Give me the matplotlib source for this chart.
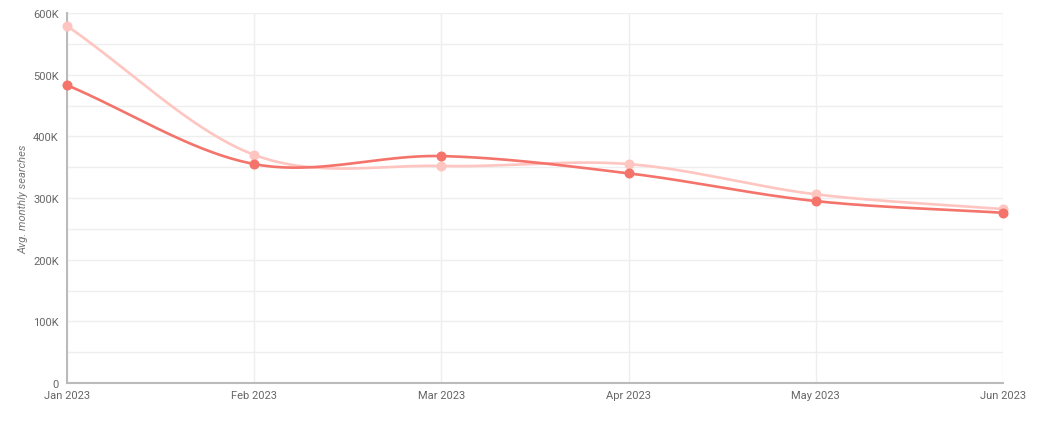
import numpy as np
import matplotlib
matplotlib.use("Agg")
import matplotlib.pyplot as plt
from matplotlib.ticker import FuncFormatter, MultipleLocator

plt.rcParams["font.family"] = ["Roboto", "DejaVu Sans"]

months = ["Jan 2023", "Feb 2023", "Mar 2023", "Apr 2023", "May 2023", "Jun 2023"]
series_dark = [483000, 355000, 368000, 340000, 295000, 276000]
series_light = [579000, 370000, 352000, 355000, 306000, 282000]

color_dark = "#F4736B"
color_light = "#FFC5C0"


def smooth(x, y, n=40):
    x = np.asarray(x, float)
    y = np.asarray(y, float)
    m = np.zeros_like(y)
    m[1:-1] = (y[2:] - y[:-2]) / (x[2:] - x[:-2])
    m[0] = (y[1] - y[0]) / (x[1] - x[0])
    m[-1] = (y[-1] - y[-2]) / (x[-1] - x[-2])
    xs, ys = [], []
    for i in range(len(x) - 1):
        h = x[i + 1] - x[i]
        t = np.linspace(0, 1, n, endpoint=(i == len(x) - 2))
        h00 = 2 * t**3 - 3 * t**2 + 1
        h10 = t**3 - 2 * t**2 + t
        h01 = -2 * t**3 + 3 * t**2
        h11 = t**3 - t**2
        xs.append(x[i] + t * h)
        ys.append(h00 * y[i] + h10 * h * m[i] + h01 * y[i + 1] + h11 * h * m[i + 1])
    return np.concatenate(xs), np.concatenate(ys)


fig = plt.figure(figsize=(10.59, 4.35), dpi=100)
ax = fig.add_axes([67 / 1059, 51 / 435, 936 / 1059, 370 / 435])

x = np.arange(len(months))
for vals, col in [(series_light, color_light), (series_dark, color_dark)]:
    sx, sy = smooth(x, vals)
    ax.plot(sx, sy, color=col, lw=1.9, solid_capstyle="round", zorder=3, clip_on=False)
    ax.plot(x, vals, "o", color=col, ms=6.2, zorder=4, clip_on=False)

ax.set_xlim(0, len(months) - 1)
ax.set_ylim(0, 600000)
ax.set_xticks(x)
ax.set_xticklabels(months)
ax.yaxis.set_major_locator(MultipleLocator(100000))
ax.yaxis.set_minor_locator(MultipleLocator(50000))
ax.yaxis.set_major_formatter(FuncFormatter(lambda v, p: "0" if v == 0 else f"{int(v/1000)}K"))

ax.grid(True, which="both", axis="y", color="#EEEEEE", lw=1)
ax.grid(True, which="major", axis="x", color="#EEEEEE", lw=1)
ax.set_axisbelow(True)

for s in ["top", "right"]:
    ax.spines[s].set_visible(False)
ax.spines["left"].set_color("#BBBBBB")
ax.spines["left"].set_linewidth(1.5)
ax.spines["bottom"].set_color("#BBBBBB")
ax.spines["bottom"].set_linewidth(1.5)

ax.tick_params(axis="both", which="both", length=0, labelsize=8, labelcolor="#666666")
ax.tick_params(axis="y", pad=6)
ax.tick_params(axis="x", pad=5)

ax.set_ylabel("Avg. monthly searches", fontsize=8, color="#777777", style="italic", labelpad=3)

fig.savefig("out.png", dpi=100, facecolor="white")
